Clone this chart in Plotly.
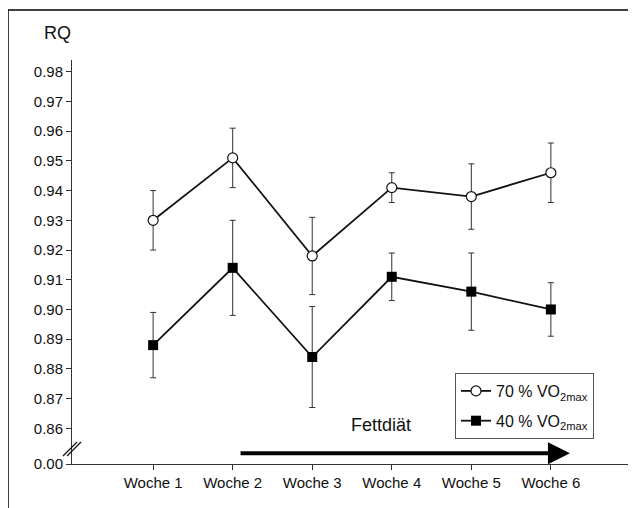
import plotly.graph_objects as go

weeks = ["Woche 1", "Woche 2", "Woche 3", "Woche 4", "Woche 5", "Woche 6"]
week_pos = [1, 2, 3, 4, 5, 6]

rq_70 = [0.930, 0.951, 0.918, 0.941, 0.938, 0.946]
rq_70_up = [0.010, 0.010, 0.013, 0.005, 0.011, 0.010]
rq_70_down = [0.010, 0.010, 0.013, 0.005, 0.011, 0.010]

rq_40 = [0.888, 0.914, 0.884, 0.911, 0.906, 0.900]
rq_40_up = [0.011, 0.016, 0.017, 0.008, 0.013, 0.009]
rq_40_down = [0.011, 0.016, 0.017, 0.008, 0.013, 0.009]

y_tick_vals = [0.848, 0.86, 0.87, 0.88, 0.89, 0.90, 0.91, 0.92, 0.93, 0.94, 0.95, 0.96, 0.97, 0.98]
y_tick_text = ["0.00", "0.86", "0.87", "0.88", "0.89", "0.90", "0.91", "0.92", "0.93",
               "0.94", "0.95", "0.96", "0.97", "0.98"]

FONT = "Liberation Sans, Arial, sans-serif"

# page has an 8px body margin: figure pixel = reference pixel - 8
PL, PT, PW, PH = 72, 60, 560, 404  # plot area in reference pixels


def px(xr):
    return (xr - PL) / PW


def py(yr):
    return (PT + PH - yr) / PH


fig = go.Figure()
fig.add_trace(go.Scatter(
    x=week_pos, y=rq_70, mode="lines+markers",
    name="70 % VO<sub>2max</sub>", legendgroup="a",
    line=dict(color="#111111", width=1.8),
    marker=dict(symbol="circle", size=10, color="white", line=dict(color="#111111", width=1.2)),
    error_y=dict(type="data", symmetric=False, array=rq_70_up, arrayminus=rq_70_down,
                 color="#333333", thickness=1, width=3),
))
fig.add_trace(go.Scatter(
    x=week_pos, y=rq_40, mode="lines+markers",
    name="40 % VO<sub>2max</sub>", legendgroup="b",
    line=dict(color="#111111", width=1.8),
    marker=dict(symbol="square", size=10, color="#000000", line=dict(color="#000000", width=0)),
    error_y=dict(type="data", symmetric=False, array=rq_40_up, arrayminus=rq_40_down,
                 color="#333333", thickness=1, width=3),
))

# Fettdiät arrow
fig.add_annotation(x=6.24, y=0.8516, ax=2.08, ay=0.8516, xref="x", yref="y",
                   axref="x", ayref="y", showarrow=True, arrowhead=2, arrowsize=1.1,
                   arrowwidth=4, arrowcolor="#000000", text="")
fig.add_annotation(x=3.87, y=0.8612, xref="x", yref="y", text="Fettdiät", showarrow=False,
                   xanchor="center", yanchor="middle",
                   font=dict(family=FONT, size=18, color="#111111"))
# RQ label
fig.add_annotation(x=px(57), y=py(33), xref="paper", yref="paper", xanchor="center",
                   yanchor="middle", text="RQ", showarrow=False,
                   font=dict(family=FONT, size=18, color="#111111"))

# axis break marks
for dx in (0, 4):
    fig.add_shape(type="line", xref="paper", yref="paper",
                  x0=px(63 + dx), y0=py(456), x1=px(77 + dx), y1=py(442),
                  line=dict(color="#111111", width=1.2))

# outer frame (top and left edges)
fig.add_shape(type="line", xref="paper", yref="paper",
              x0=px(8), y0=py(10), x1=px(640), y1=py(10),
              line=dict(color="#000000", width=1.5))
fig.add_shape(type="line", xref="paper", yref="paper",
              x0=px(8), y0=py(10), x1=px(8), y1=py(512),
              line=dict(color="#000000", width=1.5))

W, H = 628, 500
fig.update_layout(
    width=W, height=H,
    margin=dict(l=PL - 8, r=W - (PL - 8) - PW, t=PT - 8, b=H - (PT - 8) - PH),
    paper_bgcolor="white", plot_bgcolor="white",
    showlegend=True,
    legend=dict(x=px(455), y=py(373), xanchor="left", yanchor="top",
                bordercolor="#555555", borderwidth=1, bgcolor="white",
                font=dict(family=FONT, size=16, color="#111111"),
                tracegroupgap=6),
    font=dict(family=FONT, color="#111111"),
)
fig.update_xaxes(range=[-0.02, 7.02], tickvals=week_pos, ticktext=weeks,
                 showline=True, linecolor="#333333", linewidth=1, ticks="outside",
                 ticklen=5, tickcolor="#333333", showgrid=False, zeroline=False,
                 tickfont=dict(family=FONT, size=15, color="#111111"))
fig.update_yaxes(range=[0.848, 0.98394], tickvals=y_tick_vals, ticktext=y_tick_text,
                 showline=True, linecolor="#333333", linewidth=1, ticks="outside",
                 ticklen=5, tickcolor="#333333", showgrid=False, zeroline=False,
                 tickfont=dict(family=FONT, size=15, color="#111111"))

fig.write_html("out.html")
